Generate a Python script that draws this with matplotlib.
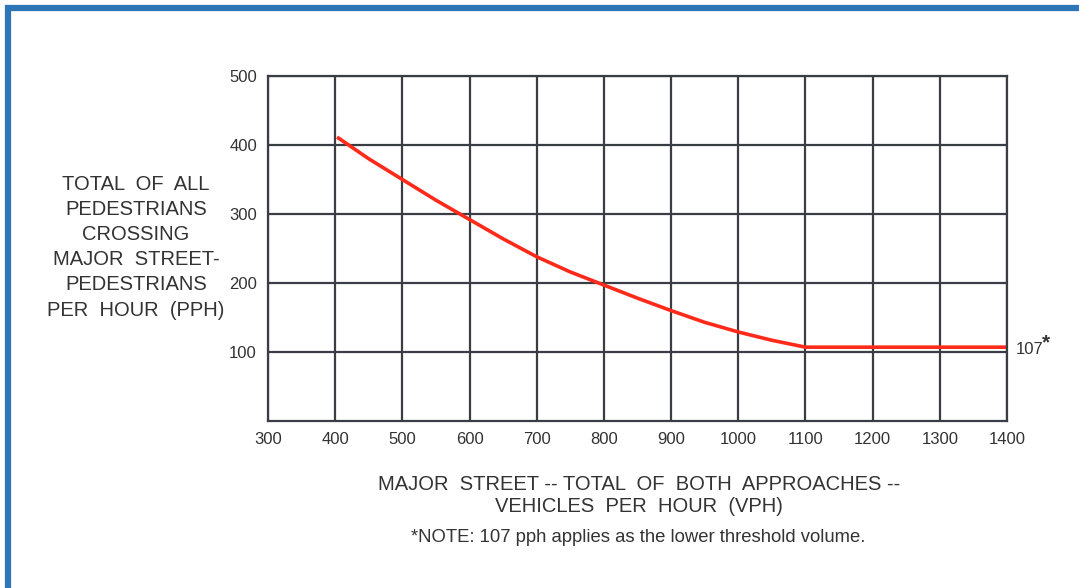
import matplotlib
matplotlib.use("Agg")
import matplotlib.pyplot as plt
from matplotlib.patches import Rectangle

plt.rcParams['font.family'] = ['Liberation Sans', 'DejaVu Sans']

# threshold curve
vph = [405, 450, 500, 550, 600, 650, 700, 750, 800, 850, 900, 950, 1000, 1050, 1100, 1400]
pph = [410, 380, 350, 320, 292, 264, 238, 216, 197, 178, 160, 143, 129, 117, 107, 107]

x_ticks = [300, 400, 500, 600, 700, 800, 900, 1000, 1100, 1200, 1300, 1400]
y_ticks = [100, 200, 300, 400, 500]

W, H = 1079, 588
fig = plt.figure(figsize=(W / 100, H / 100), dpi=100)
fig.patch.set_facecolor('white')

# blue frame (cropped at right and bottom)
fig.patches.append(Rectangle((8 / W, -0.05), 1.2, (H - 8) / H + 0.05,
                             transform=fig.transFigure, fill=False,
                             edgecolor='#2e75b6', linewidth=4.5))

ax = fig.add_axes([268 / W, (H - 421) / H, (1007 - 268) / W, (421 - 76) / H])
ax.set_xlim(300, 1400)
ax.set_ylim(0, 500)
ax.set_xticks(x_ticks)
ax.set_yticks(y_ticks)
ax.grid(True, color='#3a3d44', linewidth=1.6)
ax.set_axisbelow(True)
for s in ax.spines.values():
    s.set_color('#3a3d44')
    s.set_linewidth(1.6)
ax.tick_params(length=0, labelsize=12, labelcolor='#333333', pad=8)

ax.plot(vph, pph, color='#ff2a1a', linewidth=2.6)

# end label "107*"
ax.annotate('107', xy=(vph[-1], pph[-1]), xytext=(6, -2), textcoords='offset points',
            fontsize=12, color='#333333', ha='left', va='center', annotation_clip=False)
ax.annotate('*', xy=(vph[-1], pph[-1]), xytext=(25, 3), textcoords='offset points',
            fontsize=15, fontweight='bold', color='#333333', ha='left', va='center',
            annotation_clip=False)

ylab = ['TOTAL  OF  ALL', 'PEDESTRIANS', 'CROSSING', 'MAJOR  STREET-',
        'PEDESTRIANS', 'PER  HOUR  (PPH)']
for i, line in enumerate(ylab):
    fig.text(136 / W, (H - (184 + i * 25.2)) / H, line, ha='center', va='center',
             fontsize=14.5, color='#333333')

fig.text(639 / W, (H - 484) / H, 'MAJOR  STREET -- TOTAL  OF  BOTH  APPROACHES --',
         ha='center', va='center', fontsize=14.5, color='#333333')
fig.text(639 / W, (H - 507) / H, 'VEHICLES  PER  HOUR  (VPH)',
         ha='center', va='center', fontsize=14.5, color='#333333')
fig.text(638 / W, (H - 537) / H, '*NOTE: 107 pph applies as the lower threshold volume.',
         ha='center', va='center', fontsize=13.3, color='#333333')

fig.savefig('out.png', dpi=100)
